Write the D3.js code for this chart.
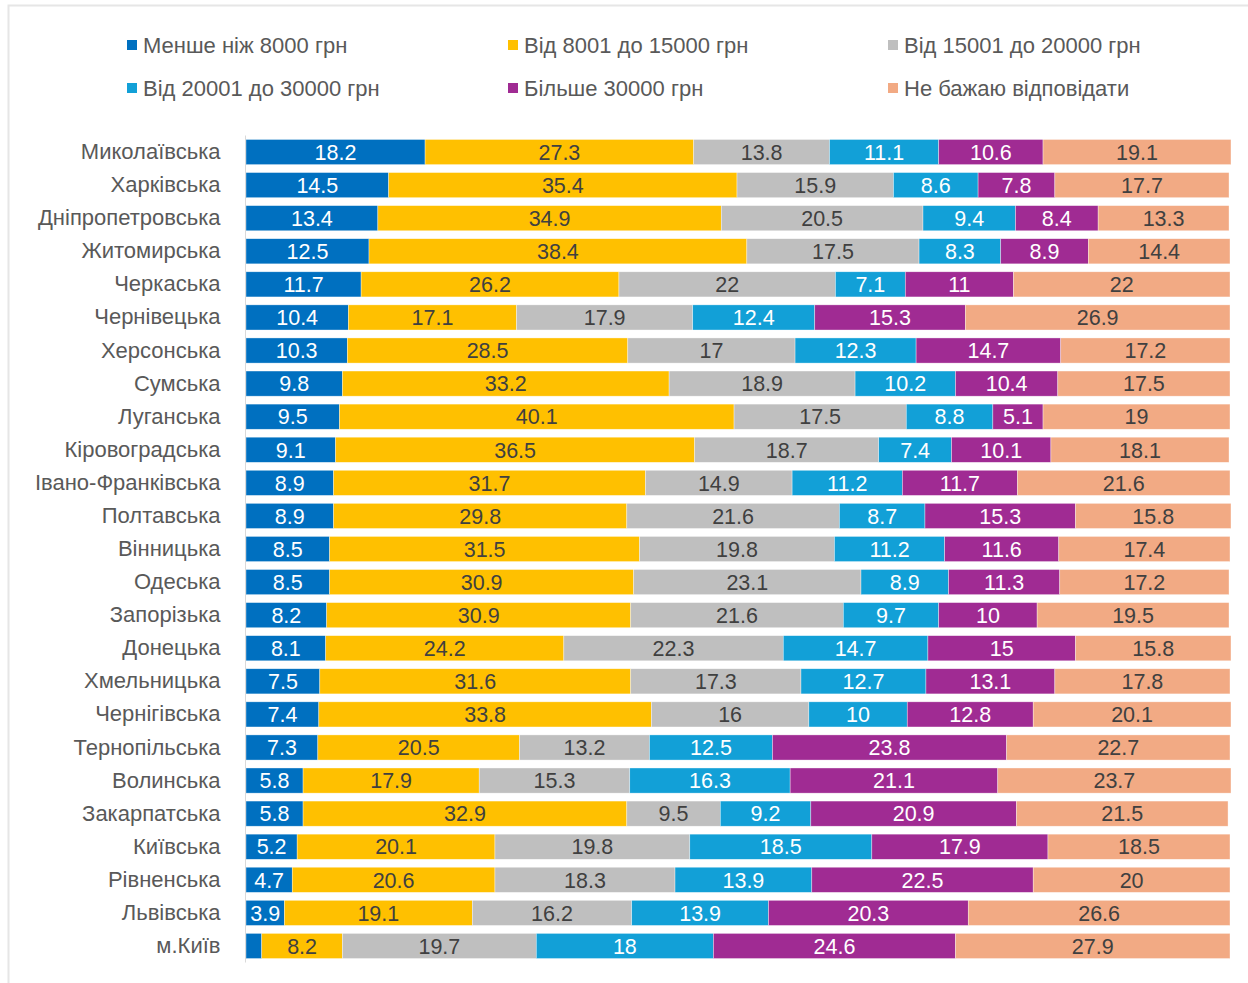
<!DOCTYPE html>
<html>
<head>
<meta charset="utf-8">
<script src="https://cdn.jsdelivr.net/npm/d3@7"></script>
<style>
  html, body { margin: 0; padding: 0; background: #fff; }
  svg { display: block; font-family: "Liberation Sans", Arial, sans-serif; }
</style>
</head>
<body>
<svg id="chart" width="1248" height="983"></svg>
<script>
const categories = ["Миколаївська","Харківська","Дніпропетровська","Житомирська","Черкаська","Чернівецька","Херсонська","Сумська","Луганська","Кіровоградська","Івано-Франківська","Полтавська","Вінницька","Одеська","Запорізька","Донецька","Хмельницька","Чернігівська","Тернопільська","Волинська","Закарпатська","Київська","Рівненська","Львівська","м.Київ"];
const seriesNames = ["Менше ніж 8000 грн","Від 8001 до 15000 грн","Від 15001 до 20000 грн","Від 20001 до 30000 грн","Більше 30000 грн","Не бажаю відповідати"];
const less8000   = [18.2,14.5,13.4,12.5,11.7,10.4,10.3,9.8,9.5,9.1,8.9,8.9,8.5,8.5,8.2,8.1,7.5,7.4,7.3,5.8,5.8,5.2,4.7,3.9,1.6];
const from8001   = [27.3,35.4,34.9,38.4,26.2,17.1,28.5,33.2,40.1,36.5,31.7,29.8,31.5,30.9,30.9,24.2,31.6,33.8,20.5,17.9,32.9,20.1,20.6,19.1,8.2];
const from15001  = [13.8,15.9,20.5,17.5,22,17.9,17,18.9,17.5,18.7,14.9,21.6,19.8,23.1,21.6,22.3,17.3,16,13.2,15.3,9.5,19.8,18.3,16.2,19.7];
const from20001  = [11.1,8.6,9.4,8.3,7.1,12.4,12.3,10.2,8.8,7.4,11.2,8.7,11.2,8.9,9.7,14.7,12.7,10,12.5,16.3,9.2,18.5,13.9,13.9,18];
const more30000  = [10.6,7.8,8.4,8.9,11,15.3,14.7,10.4,5.1,10.1,11.7,15.3,11.6,11.3,10,15,13.1,12.8,23.8,21.1,20.9,17.9,22.5,20.3,24.6];
const noAnswer   = [19.1,17.7,13.3,14.4,22,26.9,17.2,17.5,19,18.1,21.6,15.8,17.4,17.2,19.5,15.8,17.8,20.1,22.7,23.7,21.5,18.5,20,26.6,27.9];
const colors = ["#0070C0","#FFC000","#BFBFBF","#12A0D7","#A02B93","#F2AA84"];
const labelColors = ["#ffffff","#404040","#404040","#ffffff","#ffffff","#404040"];

const seriesValues = [less8000, from8001, from15001, from20001, more30000, noAnswer];
const rows = categories.map((c, i) => {
  const r = { cat: c };
  seriesNames.forEach((s, j) => r[s] = seriesValues[j][i]);
  return r;
});
const stack = d3.stack().keys(seriesNames)(rows);

const svg = d3.select("#chart");

// frame
svg.append("rect").attr("x", 8.5).attr("y", 5.5).attr("width", 1300).attr("height", 1100)
  .attr("fill", "none").attr("stroke", "#E6E6E6").attr("stroke-width", 2);

const x = d3.scaleLinear().domain([0, 100]).range([246, 1230]);
const y = d3.scaleBand().domain(categories).range([135.5, 962.5]).paddingInner(0.24).paddingOuter(0.12);

// bars
const g = svg.append("g");
stack.forEach((layer, j) => {
  const lg = g.append("g");
  lg.selectAll("rect").data(layer).join("rect")
    .attr("x", d => x(d[0]))
    .attr("y", d => y(d.data.cat))
    .attr("width", d => x(d[1]) - x(d[0]))
    .attr("height", y.bandwidth())
    .attr("fill", colors[j])
    .attr("stroke", "#ffffff").attr("stroke-opacity", 0.6).attr("stroke-width", 0.6);
  lg.selectAll("text").data(layer.filter(d => (d[1] - d[0]) >= 2.5)).join("text")
    .attr("x", d => (x(d[0]) + x(d[1])) / 2)
    .attr("y", d => y(d.data.cat) + y.bandwidth() / 2)
    .attr("dy", "0.36em")
    .attr("text-anchor", "middle")
    .attr("font-size", 21.5)
    .attr("fill", labelColors[j])
    .text(d => String(+(d[1] - d[0]).toFixed(1)));
});

// y axis
const yAxis = d3.axisLeft(y).tickSize(0).tickPadding(25);
const ya = svg.append("g").attr("transform", "translate(245.5,0)").call(yAxis);
ya.select(".domain").attr("stroke", "#D9D9D9").attr("d", "M0,135.5V962.5");
ya.selectAll("text").attr("font-size", 22).attr("fill", "#595959")
  .attr("font-family", "'Liberation Sans', Arial, sans-serif");

// legend
const legendPos = [[127,45],[508,45],[888,45],[127,88],[508,88],[888,88]];
seriesNames.forEach((s, j) => {
  const [lx, ly] = legendPos[j];
  svg.append("rect").attr("x", lx).attr("y", ly - 5).attr("width", 10).attr("height", 10).attr("fill", colors[j]);
  svg.append("text").attr("x", lx + 16).attr("y", ly).attr("dy", "0.36em")
    .attr("font-size", 22).attr("fill", "#595959").text(s);
});
</script>
</body>
</html>
